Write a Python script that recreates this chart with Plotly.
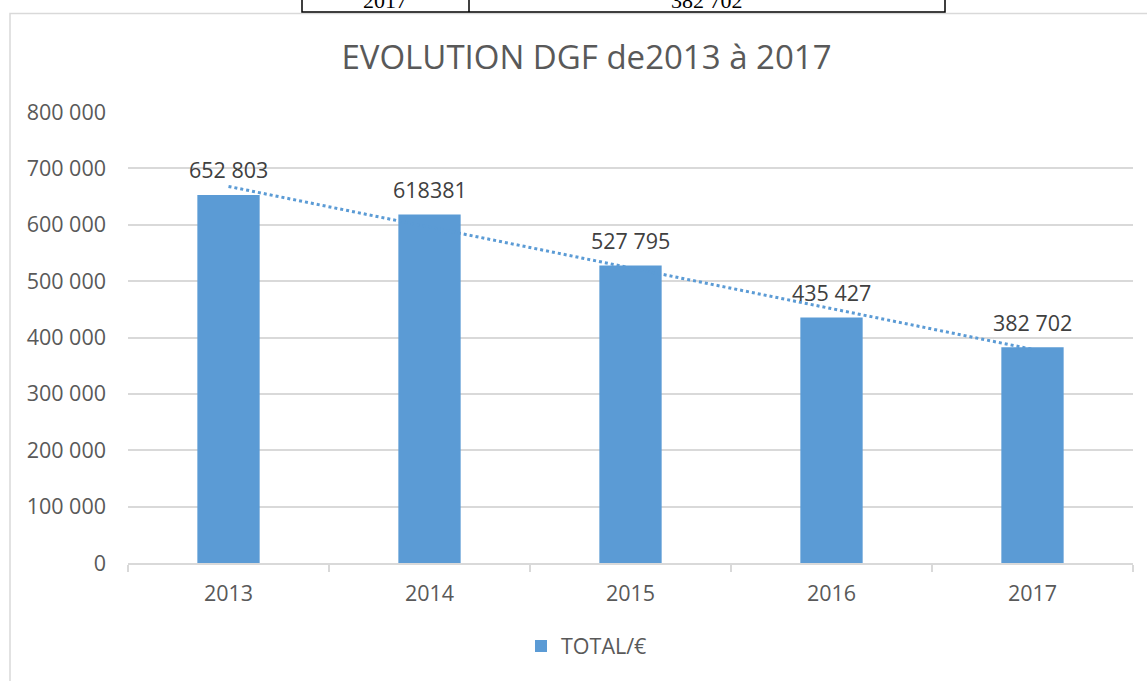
import plotly.graph_objects as go

# ---- data ----
years = ["2013", "2014", "2015", "2016", "2017"]
totals = [652803, 618381, 527795, 435427, 382702]
value_labels = ["652 803", "618381", "527 795", "435 427", "382 702"]
trend_years = ["2013", "2017"]
trend_values = [668000, 379000]  # linear trendline end points
y_tick_vals = [0, 100000, 200000, 300000, 400000, 500000, 600000, 700000, 800000]
y_tick_text = ["0", "100 000", "200 000", "300 000", "400 000", "500 000",
               "600 000", "700 000", "800 000"]
table_texts = ["2017", "382 702"]

W, H = 1147, 681
L, R, T, B = 128, 14, 112, 118
PW, PH = W - L - R, H - T - B


def px(x):
    return (x - L) / PW


def py(y):
    return (H - B - y) / PH


BAR = "#5b9bd5"
GRID = "#d9d9d9"
TXT = "#595959"
FONT = "Open Sans"
FS = 21.5

fig = go.Figure()
fig.add_trace(go.Bar(
    x=years, y=totals, name="TOTAL/€", marker=dict(color=BAR, line=dict(width=0)),
    showlegend=True, hoverinfo="x+y",
))
fig.add_trace(go.Scatter(
    x=trend_years, y=trend_values, mode="lines",
    line=dict(color=BAR, width=3, dash="dot"), showlegend=False, hoverinfo="skip",
))

shapes = [
    # chart frame
    dict(type="rect", xref="paper", yref="paper", x0=px(10), x1=px(1160),
         y0=py(700), y1=py(13.5), line=dict(color=GRID, width=1.5), layer="below"),
    # cropped table at top
    dict(type="rect", xref="paper", yref="paper", x0=px(302), x1=px(945),
         y0=py(12), y1=py(-20), line=dict(color="black", width=1.5)),
    dict(type="line", xref="paper", yref="paper", x0=px(469), x1=px(469),
         y0=py(12), y1=py(-20), line=dict(color="black", width=1.5)),
]

annotations = [
    dict(text=table_texts[0], xref="paper", yref="paper", x=px(385), y=py(0.5),
         xanchor="center", yanchor="middle", showarrow=False,
         font=dict(family="Liberation Serif", size=22, color="black")),
    dict(text=table_texts[1], xref="paper", yref="paper", x=px(707), y=py(0.5),
         xanchor="center", yanchor="middle", showarrow=False,
         font=dict(family="Liberation Serif", size=22, color="black")),
]
for i, (val, lab) in enumerate(zip(totals, value_labels)):
    annotations.append(dict(text=lab, x=i, y=val, xref="x", yref="y",
                            showarrow=False, yanchor="middle", yshift=25,
                            font=dict(family=FONT, size=FS, color="#404040")))

fig.update_layout(
    width=W, height=H,
    margin=dict(l=L, r=R, t=T, b=B, autoexpand=False),
    paper_bgcolor="white", plot_bgcolor="white",
    title=dict(text="EVOLUTION DGF de2013 à 2017", x=586.5 / W, xref="container",
               xanchor="center", y=1 - 57 / H, yref="container", yanchor="middle",
               font=dict(family=FONT, size=33, color=TXT)),
    bargap=0.69,
    showlegend=True,
    legend=dict(orientation="h", x=px(521), xanchor="left", xref="paper",
                y=py(646), yanchor="middle", font=dict(family=FONT, size=FS, color=TXT),
                itemsizing="constant", itemwidth=30),
    xaxis=dict(type="category", categoryorder="array", categoryarray=years,
               range=[-0.5, len(years) - 0.5],
               showgrid=False, showline=True, linecolor=GRID,
               linewidth=1.5, ticks="outside", ticklen=7, tickcolor=GRID,
               tickwidth=1.5, tickson="boundaries", ticklabelstandoff=10,
               tickfont=dict(family=FONT, size=FS, color=TXT), fixedrange=True),
    yaxis=dict(range=[0, 800000], tickvals=y_tick_vals, ticktext=y_tick_text,
               showgrid=True, gridcolor=GRID, gridwidth=1.5, zeroline=False,
               showline=False, ticks="", ticklabelstandoff=21,
               tickfont=dict(family=FONT, size=FS, color=TXT)),
    shapes=shapes,
    annotations=annotations,
)

fig.write_html("out.html", config={"displayModeBar": False},
               post_script="document.body.style.margin='0';")
